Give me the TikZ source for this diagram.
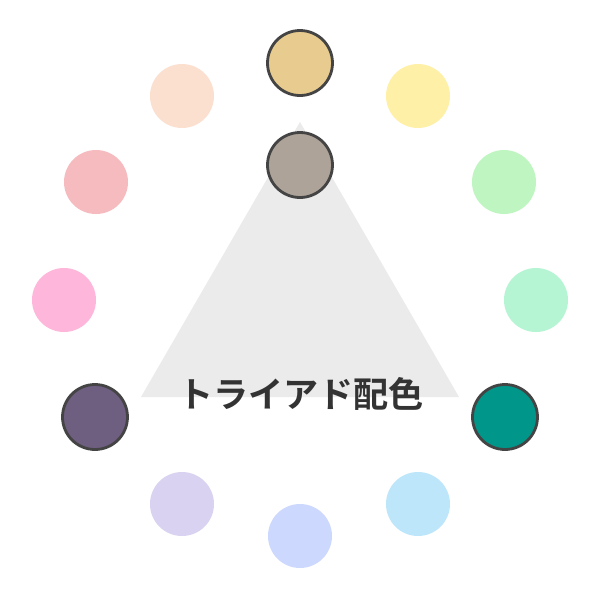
\documentclass[tikz,border=0pt]{standalone}
\usepackage{fontspec}
\newfontfamily\cjk{Noto Sans CJK JP Bold}
\definecolor{cTan}{HTML}{E8CB8E}
\definecolor{cGray}{HTML}{ADA398}
\definecolor{cYel}{HTML}{FFF0A8}
\definecolor{cGrn}{HTML}{BEF5C0}
\definecolor{cMint}{HTML}{B6F5D3}
\definecolor{cTeal}{HTML}{00978A}
\definecolor{cSky}{HTML}{BDE6FA}
\definecolor{cPeri}{HTML}{CDD8FE}
\definecolor{cLav}{HTML}{D9D2F0}
\definecolor{cPur}{HTML}{6E5E80}
\definecolor{cPink}{HTML}{FEB6DA}
\definecolor{cRose}{HTML}{F5BBBE}
\definecolor{cPeach}{HTML}{FCE0CF}
\definecolor{cTri}{HTML}{EBEBEB}
\definecolor{cEdge}{HTML}{444444}
\definecolor{cText}{HTML}{333333}
\begin{document}
\begin{tikzpicture}[x=0.02cm,y=-0.02cm,
  dot/.style={circle,inner sep=0pt,minimum size=1.28cm,draw=none},
  pick/.style={circle,inner sep=0pt,minimum size=1.3cm,draw=cEdge,line width=1.6pt}]
\useasboundingbox (0,0) rectangle (600,600);
\fill[white] (0,0) rectangle (600,600);
\coordinate (ta) at (300,122);
\coordinate (tb) at (141,397);
\coordinate (tc) at (459,397);
\fill[cTri] (ta) -- (tb) -- (tc) -- cycle;
\node[dot,fill=cYel] (c1) at (418,96) {};
\node[dot,fill=cGrn] (c2) at (504,182) {};
\node[dot,fill=cMint] (c3) at (536,300) {};
\node[dot,fill=cSky] (c5) at (418,504) {};
\node[dot,fill=cPeri] (c6) at (300,536) {};
\node[dot,fill=cLav] (c7) at (182,504) {};
\node[dot,fill=cPink] (c9) at (64,300) {};
\node[dot,fill=cRose] (c10) at (96,182) {};
\node[dot,fill=cPeach] (c11) at (182,96) {};
\node[pick,fill=cTan] (c0) at (300,63) {};
\node[pick,fill=cGray] (cin) at (300,165) {};
\node[pick,fill=cTeal] (c4) at (505,417) {};
\node[pick,fill=cPur] (c8) at (95,417) {};
\node[font=\cjk\fontsize{20}{20}\selectfont,text=cText] (lbl) at (301,394) {トライアド配色};
\end{tikzpicture}
\end{document}
